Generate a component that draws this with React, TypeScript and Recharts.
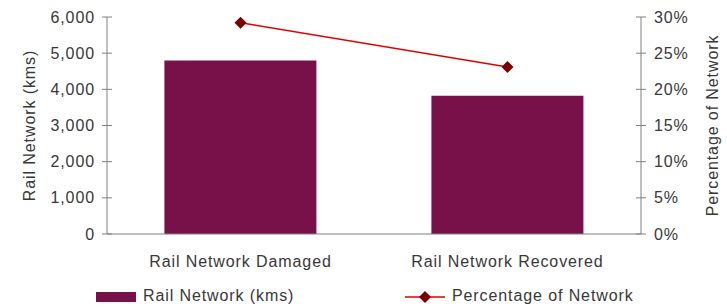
import { ComposedChart, Bar, Line, XAxis, YAxis, Legend } from "recharts";

const categories = ["Rail Network Damaged", "Rail Network Recovered"];
const railKms = [4800, 3820];
const pctNetwork = [29.2, 23.1];
const kmTicks = [0, 1000, 2000, 3000, 4000, 5000, 6000];
const pctTicks = [0, 5, 10, 15, 20, 25, 30];

const data = categories.map((name, i) => ({ name, kms: railKms[i], pct: pctNetwork[i] }));

const FONT = "'Liberation Sans', Arial, sans-serif";
const FS = 16;
const LS = 0.9;
const TEXT = "#383838";
const AXIS = "#808080";
const BAR = "#78104A";
const LINE = "#E00000";
const MARK = "#7A0000";

const txt = { fill: TEXT, fontSize: FS, fontFamily: FONT, letterSpacing: LS };

const LeftTick = (props: any) => {
  const { x, y, payload } = props;
  return (
    <g>
      <line x1={x - 5} x2={x + 5} y1={y} y2={y} stroke={AXIS} />
      <text x={x - 12} y={y} textAnchor="end" dominantBaseline="central" {...txt}>
        {payload.value.toLocaleString("en-US")}
      </text>
    </g>
  );
};

const RightTick = (props: any) => {
  const { x, y, payload } = props;
  return (
    <g>
      <line x1={x - 5} x2={x + 5} y1={y} y2={y} stroke={AXIS} />
      <text x={x + 13} y={y} textAnchor="start" dominantBaseline="central" {...txt}>
        {payload.value}%
      </text>
    </g>
  );
};

const BottomTick = (props: any) => {
  const { x, y, payload } = props;
  return (
    <text x={x} y={y + 27} textAnchor="middle" dominantBaseline="central" {...txt}>
      {payload.value}
    </text>
  );
};

const sideLabel = (text: string, dx: number) => (props: any) => {
  const { x, y, height } = props.viewBox;
  const cx = x + dx;
  const cy = y + height / 2;
  return (
    <text x={cx} y={cy} transform={`rotate(-90, ${cx}, ${cy})`} textAnchor="middle" dominantBaseline="central" {...txt}>
      {text}
    </text>
  );
};

const Diamond = (props: any) => {
  const { cx, cy } = props;
  return <path d={`M${cx},${cy - 6} L${cx + 6},${cy} L${cx},${cy + 6} L${cx - 6},${cy} Z`} fill={MARK} />;
};

const legendText = { position: "absolute" as const, top: 9, fontFamily: FONT, fontSize: FS, letterSpacing: LS, color: TEXT, whiteSpace: "nowrap" as const };

const LegendContent = () => (
  <div style={{ position: "relative", height: 30 }}>
    <div style={{ position: "absolute", left: 96, top: 14, width: 40, height: 10, background: BAR }} />
    <span style={{ ...legendText, left: 143 }}>Rail Network (kms)</span>
    <svg style={{ position: "absolute", left: 403, top: 11 }} width={44} height={16}>
      <line x1={2} x2={42} y1={8} y2={8} stroke={LINE} strokeWidth={1.5} />
      <path d="M22,2 L28,8 L22,14 L16,8 Z" fill={MARK} />
    </svg>
    <span style={{ ...legendText, left: 452 }}>Percentage of Network</span>
  </div>
);

export default function App() {
  return (
    <div style={{ position: "absolute", left: 0, top: 0 }}>
      <ComposedChart
        width={727}
        height={308}
        data={data}
        margin={{ top: 17, right: 0, bottom: 0, left: 0 }}
        barCategoryGap="21.5%"
      >
        <XAxis
          dataKey="name"
          stroke={AXIS}
          tickLine={false}
          tickSize={0}
          tickMargin={0}
          height={44}
          tick={<BottomTick />}
        />
        <YAxis
          yAxisId="left"
          orientation="left"
          width={107}
          domain={[0, 6000]}
          ticks={kmTicks}
          stroke={AXIS}
          tickLine={false}
          tickSize={0}
          tickMargin={0}
          tick={<LeftTick />}
          label={{ content: sideLabel("Rail Network (kms)", 29) }}
        />
        <YAxis
          yAxisId="right"
          orientation="right"
          width={86}
          domain={[0, 30]}
          ticks={pctTicks}
          stroke={AXIS}
          tickLine={false}
          tickSize={0}
          tickMargin={0}
          tick={<RightTick />}
          label={{ content: sideLabel("Percentage of Network", 71) }}
        />
        <Legend verticalAlign="bottom" height={30} content={<LegendContent />} />
        <Bar yAxisId="left" dataKey="kms" name="Rail Network (kms)" fill={BAR} isAnimationActive={false} />
        <Line
          yAxisId="right"
          dataKey="pct"
          name="Percentage of Network"
          stroke={LINE}
          strokeWidth={1.5}
          dot={<Diamond />}
          activeDot={false}
          isAnimationActive={false}
        />
      </ComposedChart>
    </div>
  );
}
